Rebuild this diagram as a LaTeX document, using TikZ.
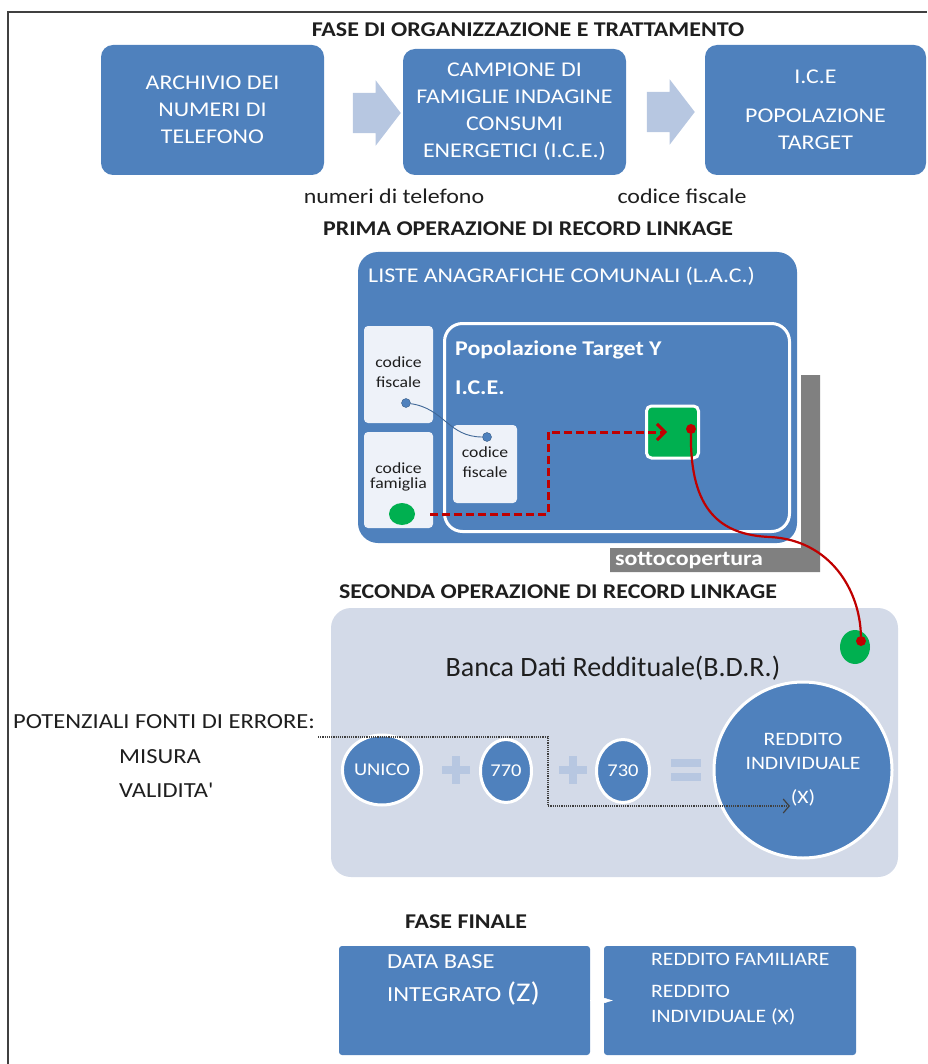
\documentclass[tikz,border=0pt]{standalone}
\usepackage{fontspec}
\setmainfont{Carlito}[FakeStretch=1.14]
\newfontfamily\plainfont{Carlito}
\usetikzlibrary{arrows.meta, positioning, shapes.geometric, shapes.arrows, calc}
\definecolor{iceblue}{RGB}{79,129,189}
\definecolor{icelight}{RGB}{183,199,225}
\definecolor{icepale}{RGB}{238,242,249}
\definecolor{bdrgray}{RGB}{211,218,232}
\definecolor{icegreen}{RGB}{0,176,80}
\definecolor{icered}{RGB}{192,0,0}
\definecolor{icegray}{RGB}{128,128,128}
\definecolor{icedark}{RGB}{64,64,64}
\definecolor{icetext}{RGB}{30,30,30}
\newcommand{\fsz}[2]{\fontsize{#1}{#2}\selectfont}
\tikzset{
  phasetitle/.style={font=\bfseries\fsz{21}{24}, text=icetext, inner sep=0pt},
  bluebox/.style={
    rectangle, rounded corners=12pt, fill=iceblue, text=white,
    align=center, font=\fsz{21}{27}
  },
  fatarrow/.style={
    single arrow, fill=icelight, draw=none, inner xsep=0pt, inner ysep=20pt,
    minimum height=48pt, single arrow head extend=12.5pt, single arrow tip angle=105
  },
  keylabel/.style={font=\fsz{21}{24}, text=icetext, inner sep=0pt},
  boxtext/.style={font=\fsz{21}{24}, text=white, inner sep=0pt},
  popbox/.style={rectangle, rounded corners=18pt, draw=white, line width=3pt, fill=iceblue},
  popword/.style={font=\bfseries\fsz{21}{24}, text=white, inner sep=0pt},
  keybox/.style={rectangle, rounded corners=4pt, fill=icepale, minimum width=69pt},
  keyword/.style={font=\fsz{15.5}{20}, text=icetext, align=center, inner sep=0pt},
  bluedot/.style={circle, fill=iceblue, draw=iceblue!70!black, minimum size=9pt, inner sep=0pt},
  greendot/.style={ellipse, fill=icegreen, inner sep=0pt},
  reddot/.style={circle, fill=icered, minimum size=10pt, inner sep=0pt},
  matchbox/.style={rectangle, rounded corners=5pt, fill=icegreen, draw=white, line width=3pt, minimum size=52pt},
  sottolabel/.style={font=\bfseries\fsz{21}{24}, text=white, inner sep=0pt},
  bdrbox/.style={rectangle, rounded corners=20pt, fill=bdrgray, minimum height=269pt},
  bdrlabel/.style={font=\plainfont\fsz{28}{32}, text=icetext, inner sep=0pt},
  sumcircle/.style={
    ellipse, fill=iceblue, draw=white, line width=3pt, text=white,
    align=center, font=\fsz{18}{20}, inner sep=0pt
  },
  errlabel/.style={font=\fsz{21.5}{24}, text=icetext, inner sep=0pt},
  finalbox/.style={rectangle, rounded corners=3pt, fill=iceblue, minimum height=109pt},
  finaltext/.style={font=\fsz{21.5}{33}, text=white, align=left, inner sep=0pt},
  linkline/.style={draw=iceblue!80!black, line width=0.9pt},
  linkdash/.style={-{Straight Barb[length=8pt,width=16pt]}, draw=icered, line width=3pt, dash pattern=on 8pt off 4pt},
  linkcurve/.style={draw=icered, line width=2.2pt},
  errflow/.style={-{Straight Barb[length=6pt,width=14pt]}, draw=icedark, line width=1.2pt, densely dotted},
  finalflow/.style={-{Triangle[length=22pt,width=13pt]}, draw=white, fill=white, line width=0.5pt},
  plusmark/.pic={
    \fill[icelight] (-14,-4) rectangle (14,4);
    \fill[icelight] (-4,-14) rectangle (4,14);
  },
  equalmark/.pic={
    \fill[icelight] (-15,-11) rectangle (15,-3);
    \fill[icelight] (-15,3) rectangle (15,11);
  }
}

\begin{document}
\begin{tikzpicture}[x=1pt, y=-1pt]
\useasboundingbox (0,0) rectangle (927,1064);

% frame
\draw[icedark, line width=1.5pt] (8,1064) -- (8,12) -- (927,12);

% Fase di organizzazione
\node[phasetitle] (titleA) at (528,30) {FASE DI ORGANIZZAZIONE E TRATTAMENTO};
\node[bluebox, minimum width=223pt, minimum height=130pt] (archivio) at (212.5,110) {ARCHIVIO DEI\\NUMERI DI\\TELEFONO};
\node[bluebox, minimum width=223pt, minimum height=126pt] (campione) at (514.5,112) {CAMPIONE DI\\FAMIGLIE INDAGINE\\CONSUMI\\ENERGETICI (I.C.E.)};
\node[bluebox, minimum width=221pt, minimum height=130pt] (target) at (815.5,110) {I.C.E\\[12pt]POPOLAZIONE\\TARGET};
\node[fatarrow] (arrA) at (369,113) {};
\node[fatarrow] (arrB) at (663,112) {};
\node[keylabel] (keytel) at (394,196) {numeri di telefono};
\node[keylabel] (keycf) at (682,196) {codice fiscale};

% Prima operazione
\node[phasetitle] (titleB) at (528,229) {PRIMA OPERAZIONE DI RECORD LINKAGE};
\fill[icegray] (801,375) -- (820,375) -- (820,572) -- (610,572) -- (610,548) -- (801,548) -- cycle;
\node[sottolabel] (sotto) at (689,561) {sottocopertura};
\node[bluebox, rounded corners=20pt, minimum width=439pt, minimum height=291pt] (lac) at (577.5,397.5) {};
\node[boxtext, anchor=west] (lactitle) at (368,276) {LISTE ANAGRAFICHE COMUNALI (L.A.C.)};
\node[popbox, minimum width=345pt, minimum height=208pt] (popY) at (617,427.5) {};
\node[popword, anchor=west] (poptitle) at (455,350) {Popolazione Target Y};
\node[popword, anchor=west] (popice) at (455,388) {I.C.E.};

\node[keybox, minimum height=97pt] (cfbox) at (398.5,374.5) {};
\node[keyword] (cftext) at (398.5,372) {codice\\fiscale};
\node[keybox, minimum height=96pt] (fambox) at (398.5,480) {};
\node[keyword, font=\fsz{15.5}{15}] (famtext) at (398.5,477) {codice\\famiglia};
\node[keybox, minimum width=64pt, minimum height=78pt] (cfice) at (485,464) {};
\node[keyword] (cficetext) at (485,462) {codice\\fiscale};

\node[bluedot] (dotA) at (406,403) {};
\node[bluedot] (dotB) at (487,437) {};
\draw[linkline] (dotA) to[out=-8, in=180, looseness=1.1] (dotB);

\node[greendot, minimum width=26pt, minimum height=22pt] (famdot) at (402,514) {};
\node[matchbox] (match) at (672.5,432) {};
\node[reddot] (matchdot) at (691,429) {};
\coordinate (tipin) at (667,432);
\draw[linkdash, shorten <=15pt] (famdot.east) -- ++(133,0) |- (tipin);

% Seconda operazione
\node[phasetitle] (titleC) at (558,592) {SECONDA OPERAZIONE DI RECORD LINKAGE};
\node[bdrbox, minimum width=567pt] (bdr) at (614.5,742.5) {};
\node[bdrlabel] (bdrtitle) at (613,668) {Banca Dati Reddituale(B.D.R.)};
\node[greendot, minimum width=30pt, minimum height=34pt] (bdrdot) at (855,647) {};
\node[reddot] (bdrred) at (861,641) {};
\draw[linkcurve] (matchdot) .. controls (690,510) and (720,535) .. (770,537)
  .. controls (830,540) and (860,590) .. (bdrred);

\node[sumcircle, minimum width=73pt, minimum height=70pt] (unico) at (382,770) {UNICO};
\node[sumcircle, minimum width=51pt, minimum height=63pt] (c770) at (506,771) {770};
\node[sumcircle, minimum width=53pt, minimum height=63pt] (c730) at (623,771) {730};
\node[sumcircle, minimum width=178pt, minimum height=176pt, font=\fsz{19}{24}] (redind) at (803,770) {REDDITO\\INDIVIDUALE\\[10pt](X)};
\pic at (456,770) {plusmark};
\pic at (573,770) {plusmark};
\pic at (686,770) {equalmark};

% fonti di errore
\node[errlabel, anchor=west] (errtitle) at (13,722) {POTENZIALI FONTI DI ERRORE:};
\node[errlabel, anchor=west] (errmis) at (119,757) {MISURA};
\node[errlabel, anchor=west] (errval) at (119,790) {VALIDITA\textquotesingle};
\coordinate (errA) at (318,737);
\coordinate (errB) at (548,737);
\coordinate (xin) at (790,806);
\draw[errflow] (errA) -- (errB) |- (xin);

% Fase finale
\node[phasetitle] (titleD) at (466,922) {FASE FINALE};
\node[finalbox, minimum width=251pt] (dbz) at (464.5,1000.5) {};
\node[finalbox, minimum width=252pt] (redd) at (730,1000.5) {};
\node[finaltext, anchor=west] (dbztext) at (387,980) {DATA BASE\\INTEGRATO {\fsz{27}{33}(Z)}};
\node[finaltext, anchor=west, font=\fsz{19}{25}] (reddtext) at (651,989) {REDDITO FAMILIARE\\[7pt]REDDITO\\INDIVIDUALE (X)};
\draw[finalflow] (dbz.east) -- ([xshift=9pt]redd.west);

\end{tikzpicture}
\end{document}
